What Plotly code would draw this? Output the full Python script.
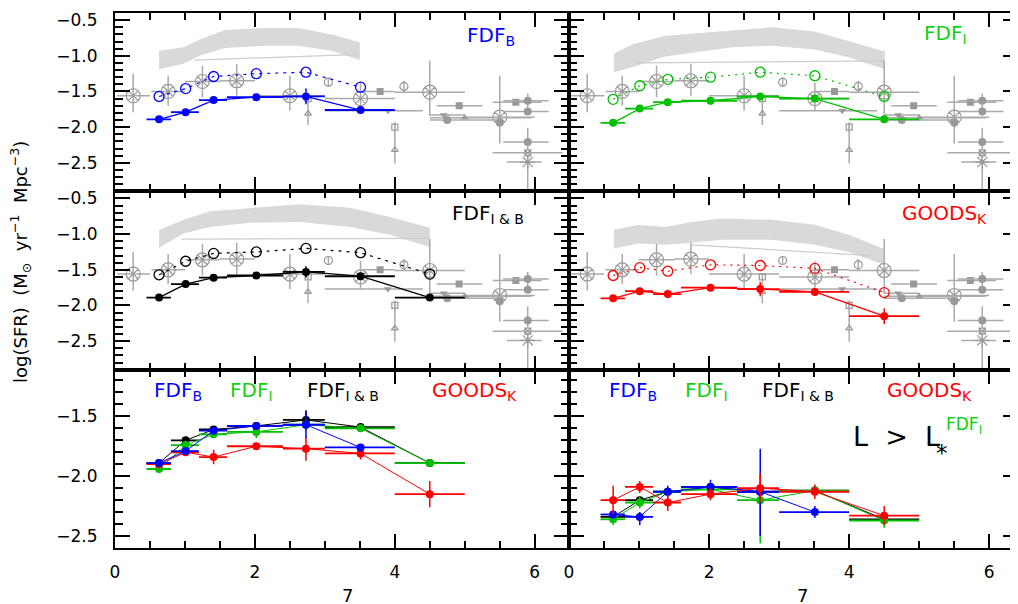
import plotly.graph_objects as go
from plotly.subplots import make_subplots

# ---------------- data ----------------
bin_lo = [0.45, 0.8, 1.2, 1.6, 2.4, 3.0, 4.0]
bin_hi = [0.8, 1.2, 1.6, 2.4, 3.0, 4.0, 5.0]
z_mid = [0.63, 1.01, 1.41, 2.02, 2.73, 3.51, 4.50]

# FDF_B
b_all_y = [-1.89, -1.79, -1.62, -1.58, -1.57, -1.76]
b_all_err = [0.02, 0.03, 0.03, 0.03, 0.11, 0.03]
b_corr_y = [-1.57, -1.46, -1.29, -1.25, -1.23, -1.44]
# FDF_I
i_all_y = [-1.94, -1.74, -1.65, -1.63, -1.57, -1.60, -1.89]
i_all_err = [0.02, 0.03, 0.03, 0.05, 0.05, 0.03, 0.03]
i_corr_y = [-1.61, -1.42, -1.33, -1.30, -1.23, -1.28, -1.57]
# FDF_I&B
ib_all_y = [-1.89, -1.70, -1.61, -1.58, -1.53, -1.59, -1.89]
ib_all_err = [0.02, 0.03, 0.03, 0.03, 0.08, 0.03, 0.03]
ib_corr_y = [-1.57, -1.38, -1.27, -1.25, -1.20, -1.26, -1.56]
# GOODS_K
k_all_y = [-1.90, -1.80, -1.84, -1.75, -1.77, -1.81, -2.15]
k_all_err = [0.03, 0.03, 0.06, 0.03, 0.10, 0.05, 0.11]
k_corr_y = [-1.58, -1.47, -1.52, -1.43, -1.44, -1.48, -1.82]

# L > L* (bright)
lb_y = [-2.32, -2.34, -2.13, -2.09, -2.13, -2.30]
lb_ep = [0.03, 0.04, 0.05, 0.06, 0.36, 0.05]
lb_em = [0.03, 0.07, 0.05, 0.04, 0.37, 0.05]
li_y = [-2.36, -2.22, -2.13, -2.11, -2.20, -2.12, -2.37]
li_ep = [0.04, 0.05, 0.03, 0.03, 0.10, 0.04, 0.04]
li_em = [0.05, 0.05, 0.03, 0.03, 0.36, 0.04, 0.06]
lib_y = [-2.34, -2.20, -2.13, -2.09, -2.13, -2.12, -2.36]
lib_e = [0.02, 0.03, 0.03, 0.03, 0.05, 0.03, 0.03]
lk_y = [-2.20, -2.09, -2.22, -2.15, -2.10, -2.13, -2.33]
lk_e = [0.12, 0.05, 0.07, 0.05, 0.12, 0.06, 0.08]

# model bands
tl_band_x = [0.63, 0.98, 1.21, 1.57, 2.14, 2.62, 3.10, 3.50]
tl_band_up = [-0.93, -0.88, -0.77, -0.64, -0.61, -0.61, -0.70, -0.81]
tl_band_lo = [-1.19, -1.11, -1.00, -0.89, -0.86, -0.86, -0.93, -1.06]
tl_line_x = [1.14, 3.50]
tl_line_y = [-1.06, -0.98]

tr_band_x = [0.64, 0.90, 1.37, 1.85, 2.33, 2.90, 3.51, 3.99, 4.51]
tr_band_up = [-0.97, -0.84, -0.72, -0.68, -0.64, -0.60, -0.66, -0.79, -0.94]
tr_band_lo = [-1.23, -1.16, -1.01, -0.94, -0.88, -0.86, -0.91, -1.02, -1.19]
tr_line_x = [0.95, 4.51]
tr_line_y = [-1.10, -1.07]

ml_band_x = [0.63, 0.98, 1.36, 1.93, 2.64, 3.36, 3.93, 4.50]
ml_band_up = [-0.94, -0.80, -0.68, -0.64, -0.58, -0.63, -0.76, -0.91]
ml_band_lo = [-1.19, -0.99, -0.90, -0.84, -0.83, -0.90, -1.01, -1.18]
ml_line_x = [0.95, 4.50]
ml_line_y = [-1.07, -1.06]

mr_band_x = [0.64, 0.99, 1.37, 1.75, 2.18, 2.90, 3.51, 3.99, 4.50]
mr_band_up = [-0.94, -0.87, -0.90, -0.83, -0.78, -0.80, -0.87, -1.01, -1.21]
mr_band_lo = [-1.20, -1.13, -1.15, -1.12, -1.08, -1.08, -1.15, -1.25, -1.43]
mr_line_x = [1.75, 4.30]
mr_line_y = [-1.15, -1.30]

# literature compilation (gray)
cx_x = [0.26, 0.76, 1.25, 1.74, 2.50, 3.51, 4.50, 5.50]
cx_y = [-1.56, -1.50, -1.36, -1.35, -1.56, -1.60, -1.51, -1.86]
cx_xlo = [0.03, 0.52, 1.0, 1.5, 2.0, 3.0, 4.0, 5.0]
cx_xhi = [0.50, 1.0, 1.5, 2.0, 3.0, 4.0, 5.0, 6.0]
cx_ylo = [-1.79, -1.70, -1.58, -1.56, -1.77, -1.77, -1.84, -2.23]
cx_yhi = [-1.25, -1.28, -1.14, -1.12, -1.28, -1.38, -1.07, -1.28]

sq_x = [3.79, 4.92, 5.73]
sq_y = [-1.50, -1.70, -1.65]
sq_xlo = [3.5, 4.6, 5.4]
sq_xhi = [4.0, 5.25, 6.1]

tdn_x = [3.90, 4.70]
tdn_y = [-1.77, -1.83]
tdn_xlo = [3.0, 4.5]
tdn_xhi = [4.4, 5.0]

tup_x = [5.00]
tup_y = [-1.87]
tup_xlo = [4.5]
tup_xhi = [5.95]

dot_x = [4.75, 5.50, 5.90, 5.90, 5.90]
dot_y = [-1.90, -1.94, -1.63, -1.78, -2.21]
dot_xlo = [4.5, 5.5, 5.55, 5.55, 5.55]
dot_xhi = [5.47, 5.5, 6.2, 6.2, 6.2]
dot_ep = [0.0, 0.0, 0.10, 0.0, 0.2]
dot_em = [0.0, 0.0, 0.10, 0.0, 0.1]

oc_x = [3.05, 4.13]
oc_y = [-1.37, -1.43]
oc_e = [0.06, 0.08]

osq_x = [2.76, 4.00]
osq_y = [-1.60, -2.00]
osq_e = [0.04, 0.07]

otr_x = [2.76, 4.00]
otr_y = [-1.81, -2.32]
otr_ep = [0.16, 0.35]
otr_em = [0.16, 0.19]

ast_x = [5.90]
ast_y = [-2.49]
ast_xlo = [5.6]
ast_xhi = [6.1]
ast_ep = [0.1]
ast_em = [0.45]

sqx_x = [5.90]
sqx_y = [-2.36]
sqx_xlo = [5.4]
sqx_xhi = [6.4]

# ---------------- styling ----------------
BLUE = '#0000ff'
GREEN = '#00c000'
LGREEN = '#11d011'
BLACK = '#000000'
RED = '#ff0000'
GRAY = '#999999'
GRAYL = '#aaaaaa'
BAND = '#d9d9d9'
FONT = 'DejaVu Sans'

fig = make_subplots(rows=3, cols=2, horizontal_spacing=0, vertical_spacing=0,
                    column_widths=[454, 449])


def lohi(x, lo, hi):
    return [h - v for v, h in zip(x, hi)], [v - l for v, l in zip(x, lo)]


def add_band(r, c, bx, up, lo, lx, ly):
    fig.add_trace(go.Scatter(x=bx + bx[::-1], y=up + lo[::-1], mode='lines',
                             fill='toself', fillcolor=BAND, line=dict(width=0, color=BAND),
                             hoverinfo='skip', showlegend=False), row=r, col=c)
    fig.add_trace(go.Scatter(x=lx, y=ly, mode='lines', line=dict(color='#cccccc', width=1.3),
                             hoverinfo='skip', showlegend=False), row=r, col=c)


def gray_trace(r, c, x, y, symbol, size, xlo=None, xhi=None, ep=None, em=None, filled=True):
    kw = {}
    if xlo is not None:
        p, m = lohi(x, xlo, xhi)
        kw['error_x'] = dict(type='data', symmetric=False, array=p, arrayminus=m,
                             color=GRAYL, thickness=1.5, width=0)
    if ep is not None:
        kw['error_y'] = dict(type='data', symmetric=False, array=ep, arrayminus=em,
                             color=GRAYL, thickness=1.5, width=0)
    mk = dict(symbol=symbol, size=size, color=GRAY)
    if not filled:
        mk['line'] = dict(color=GRAY, width=1.2)
    fig.add_trace(go.Scatter(x=x, y=y, mode='markers', marker=mk, showlegend=False,
                             **kw), row=r, col=c)


def add_gray(r, c):
    p_hi = [h - v for v, h in zip(cx_y, cx_yhi)]
    p_lo = [v - l for v, l in zip(cx_y, cx_ylo)]
    gray_trace(r, c, cx_x, cx_y, 'circle-x-open', 14, cx_xlo, cx_xhi, p_hi, p_lo, filled=False)
    gray_trace(r, c, sq_x, sq_y, 'square', 7, sq_xlo, sq_xhi)
    gray_trace(r, c, tdn_x, tdn_y, 'triangle-down', 7, tdn_xlo, tdn_xhi)
    gray_trace(r, c, tup_x, tup_y, 'triangle-up', 7, tup_xlo, tup_xhi)
    gray_trace(r, c, dot_x, dot_y, 'circle', 8, dot_xlo, dot_xhi, dot_ep, dot_em)
    gray_trace(r, c, oc_x, oc_y, 'circle-open', 8, None, None, oc_e, oc_e, filled=False)
    gray_trace(r, c, osq_x, osq_y, 'square-open', 6, None, None, osq_e, osq_e, filled=False)
    gray_trace(r, c, otr_x, otr_y, 'triangle-up-open', 6, None, None, otr_ep, otr_em, filled=False)
    gray_trace(r, c, ast_x, ast_y, 'asterisk-open', 12, ast_xlo, ast_xhi, ast_ep, ast_em, filled=False)
    gray_trace(r, c, sqx_x, sqx_y, 'square-x-open', 6, sqx_xlo, sqx_xhi, filled=False)


def add_series(r, c, y, ep, em, color, lw=1.3, ms=8):
    n = len(y)
    x = z_mid[:n]
    p, m = lohi(x, bin_lo[:n], bin_hi[:n])
    fig.add_trace(go.Scatter(x=x, y=y, mode='lines+markers',
                             line=dict(color=color, width=lw),
                             marker=dict(symbol='circle', size=ms, color=color),
                             error_x=dict(type='data', symmetric=False, array=p, arrayminus=m,
                                          color=color, thickness=1.8, width=0),
                             error_y=dict(type='data', symmetric=False, array=ep, arrayminus=em,
                                          color=color, thickness=1.5, width=0),
                             showlegend=False), row=r, col=c)


def add_open(r, c, y, color, dash):
    n = len(y)
    fig.add_trace(go.Scatter(x=z_mid[:n], y=y, mode='lines+markers',
                             line=dict(color=color, width=1.2, dash=dash),
                             marker=dict(symbol='circle-open', size=10, color=color,
                                         line=dict(color=color, width=1.3)),
                             showlegend=False), row=r, col=c)


# top-left FDF_B
add_band(1, 1, tl_band_x, tl_band_up, tl_band_lo, tl_line_x, tl_line_y)
add_gray(1, 1)
add_open(1, 1, b_corr_y, BLUE, '3px,5px')
add_series(1, 1, b_all_y, b_all_err, b_all_err, BLUE)
# top-right FDF_I
add_band(1, 2, tr_band_x, tr_band_up, tr_band_lo, tr_line_x, tr_line_y)
add_gray(1, 2)
add_open(1, 2, i_corr_y, GREEN, '2px,5px')
add_series(1, 2, i_all_y, i_all_err, i_all_err, GREEN)
# middle-left FDF_I&B
add_band(2, 1, ml_band_x, ml_band_up, ml_band_lo, ml_line_x, ml_line_y)
add_gray(2, 1)
add_open(2, 1, ib_corr_y, BLACK, '3px,5px')
add_series(2, 1, ib_all_y, ib_all_err, ib_all_err, BLACK)
# middle-right GOODS_K
add_band(2, 2, mr_band_x, mr_band_up, mr_band_lo, mr_line_x, mr_line_y)
add_gray(2, 2)
add_open(2, 2, k_corr_y, RED, '2px,5px')
add_series(2, 2, k_all_y, k_all_err, k_all_err, RED)
# bottom-left: all
add_series(3, 1, ib_all_y, ib_all_err, ib_all_err, BLACK, 1.0, 8)
add_series(3, 1, i_all_y, i_all_err, i_all_err, GREEN, 1.0, 8)
add_series(3, 1, k_all_y, k_all_err, k_all_err, RED, 1.0, 8)
add_series(3, 1, b_all_y, b_all_err, b_all_err, BLUE, 1.0, 8)
# bottom-right: bright
add_series(3, 2, lib_y, lib_e, lib_e, BLACK, 1.0, 8)
add_series(3, 2, li_y, li_ep, li_em, GREEN, 1.0, 8)
add_series(3, 2, lb_y, lb_ep, lb_em, BLUE, 1.0, 8)
add_series(3, 2, lk_y, lk_e, lk_e, RED, 1.0, 8)

# ---------------- axes ----------------
for r in (1, 2, 3):
    for c in (1, 2):
        fig.update_xaxes(range=[0, 6.49] if c == 1 else [0, 6.41], tick0=0, dtick=2,
                         ticks='inside', ticklen=14, tickwidth=1.5, tickcolor='black',
                         minor=dict(dtick=0.5, tick0=0, ticks='inside', ticklen=7, tickwidth=1.5,
                                    tickcolor='black'),
                         showline=True, linewidth=2, linecolor='black', mirror='ticks',
                         showgrid=False, zeroline=False, showticklabels=(r == 3),
                         ticklabelstandoff=8, automargin=False,
                         tickfont=dict(family=FONT, size=17, color='black'), row=r, col=c)
        yr = [-2.9, -0.4] if r < 3 else [-2.6, -1.11]
        fig.update_yaxes(range=yr, tick0=-0.5, dtick=0.5, tickformat='.1f',
                         ticks='inside', ticklen=15, tickwidth=1.5, tickcolor='black',
                         minor=dict(dtick=0.1, tick0=-0.5, ticks='inside', ticklen=8, tickwidth=1.5,
                                    tickcolor='black'),
                         showline=True, linewidth=2, linecolor='black', mirror='ticks',
                         showgrid=False, zeroline=False, showticklabels=(c == 1),
                         ticklabelstandoff=12, automargin=False,
                         tickfont=dict(family=FONT, size=17, color='black'), row=r, col=c)

# ---------------- annotations ----------------
ann = []


def label(xref, yref, x, y, text, color, size=20, xanchor='left'):
    ann.append(dict(xref=xref, yref=yref, x=x, y=y, text=text, showarrow=False,
                    xanchor=xanchor, yanchor='middle',
                    font=dict(family=FONT, size=size, color=color)))


label('x', 'y', 5.0, -0.72, 'FDF<sub>B</sub>', BLUE)
label('x2', 'y2', 5.04, -0.70, 'FDF<sub>I</sub>', LGREEN)
label('x3', 'y3', 4.79, -0.72, 'FDF<sub>I &amp; B</sub>', BLACK)
label('x4', 'y4', 4.73, -0.72, 'GOODS<sub>K</sub>', RED)
for xr, yr_, xs in (('x5', 'y5', [0.53, 1.61, 2.71, 4.51]), ('x6', 'y6', [0.54, 1.63, 2.73, 4.51])):
    label(xr, yr_, xs[0], -1.29, 'FDF<sub>B</sub>', BLUE)
    label(xr, yr_, xs[1], -1.29, 'FDF<sub>I</sub>', LGREEN)
    label(xr, yr_, xs[2], -1.29, 'FDF<sub>I &amp; B</sub>', BLACK)
    label(xr, yr_, xs[3], -1.29, 'GOODS<sub>K</sub>', RED)

label('x6', 'y6', 4.02, -1.67, 'L  &gt;  L', BLACK, 27)
label('x6', 'y6', 5.33, -1.81, '*', BLACK, 23, 'center')
label('x6', 'y6', 5.36, -1.575, 'FDF<sub>I</sub>', LGREEN, 17)

ann.append(dict(xref='paper', yref='paper', x=-0.105, y=0.535, textangle=-90,
                text='log(SFR)  (M<sub>\u2299</sub>  yr<sup>\u22121</sup>  Mpc<sup>\u22123</sup>)',
                showarrow=False, xanchor='center', yanchor='middle',
                font=dict(family=FONT, size=18, color='black')))
for xr, xv in (('x5', 3.33), ('x6', 3.34)):
    ann.append(dict(xref=xr, yref='paper', x=xv, y=-0.088, text='7', showarrow=False,
                    xanchor='center', yanchor='middle',
                    font=dict(family=FONT, size=18, color='black')))

# page body has an 8px margin: shift the figure so the axes sit where the reference has them
fig.update_layout(width=1010, height=596, margin=dict(l=107, r=0, t=5, b=56),
                  paper_bgcolor='white', plot_bgcolor='white', annotations=ann,
                  font=dict(family=FONT, size=17, color='black'), showlegend=False)

fig.write_html('out.html')
